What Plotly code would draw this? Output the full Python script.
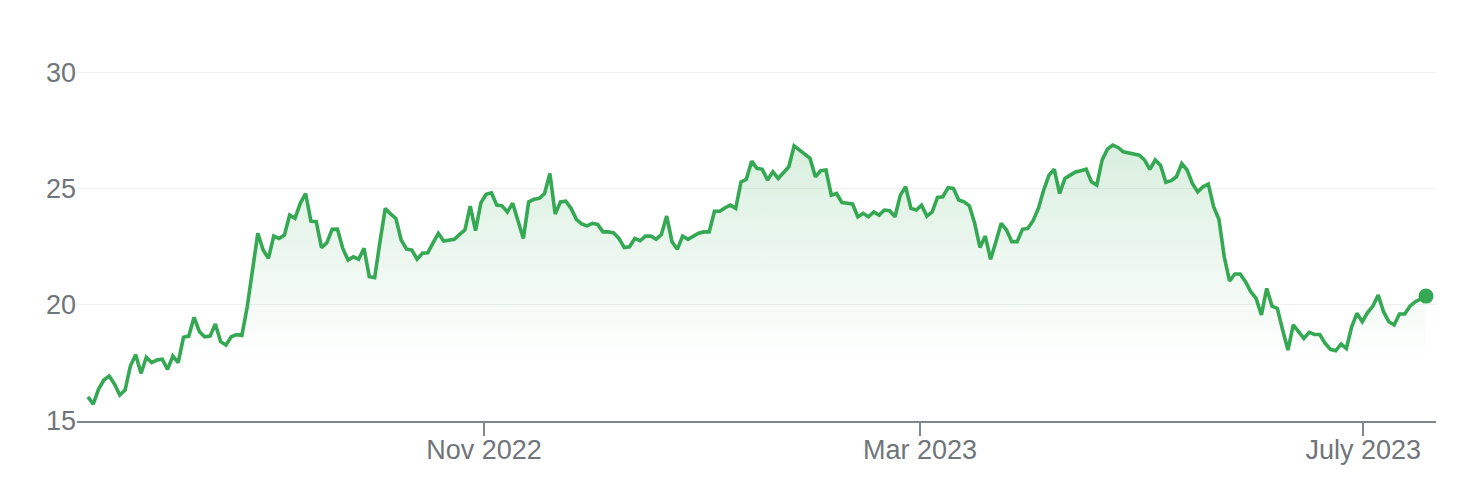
import pandas as pd
import plotly.graph_objects as go

# closing prices, one block per month
jul_2022 = [16.04, 15.73, 16.36, 16.76, 16.93, 16.59, 16.12, 16.33, 17.36]
aug_2022 = [17.85, 17.05, 17.74, 17.51, 17.62, 17.66, 17.22, 17.79, 17.51, 18.60,
            18.65, 19.46, 18.84, 18.62, 18.65, 19.17, 18.41, 18.27, 18.62, 18.71,
            18.68, 19.90, 21.60]
sep_2022 = [23.07, 22.35, 21.99, 22.95, 22.85, 22.99, 23.85, 23.71, 24.36, 24.78,
            23.59, 23.57, 22.45, 22.66, 23.24, 23.25, 22.42, 21.92, 22.06, 21.96,
            22.42]
oct_2022 = [21.20, 21.16, 22.70, 24.14, 23.90, 23.71, 22.78, 22.39, 22.35, 21.96,
            22.21, 22.23, 22.66, 23.07, 22.74, 22.78, 22.81, 23.02, 23.21, 24.24,
            23.18]
nov_2022 = [24.38, 24.75, 24.81, 24.28, 24.25, 23.99, 24.36, 23.57, 22.85, 24.42,
            24.53, 24.57, 24.78, 25.64, 23.90, 24.42, 24.45, 24.14, 23.67, 23.47,
            23.39]
dec_2022 = [23.50, 23.45, 23.13, 23.13, 23.09, 22.85, 22.46, 22.49, 22.85, 22.75,
            22.95, 22.95, 22.81, 23.02, 23.81, 22.71, 22.38, 22.95, 22.81, 22.95,
            23.07]
jan_2023 = [23.13, 23.13, 24.02, 24.02, 24.17, 24.28, 24.14, 25.28, 25.39, 26.17,
            25.86, 25.82, 25.36, 25.71, 25.43, 25.71, 25.93, 26.83, 26.65, 26.47]
feb_2023 = [26.29, 25.50, 25.76, 25.79, 24.71, 24.78, 24.39, 24.36, 24.33, 23.78,
            23.93, 23.78, 23.99, 23.85, 24.07, 24.04, 23.78, 24.71, 25.07]
mar_2023 = [24.14, 24.07, 24.28, 23.81, 23.99, 24.61, 24.64, 25.03, 25.00, 24.50,
            24.42, 24.25, 23.50, 22.46, 22.95, 21.95, 22.71, 23.50, 23.21, 22.71,
            22.71, 23.24, 23.28]
apr_2023 = [23.61, 24.14, 24.93, 25.57, 25.82, 24.78, 25.43, 25.57, 25.71, 25.76,
            25.83, 25.28, 25.14, 26.22, 26.69, 26.86, 26.76, 26.57, 26.53]
may_2023 = [26.47, 26.43, 26.22, 25.82, 26.22, 26.00, 25.26, 25.33, 25.50, 26.07,
            25.79, 25.21, 24.85, 25.07, 25.18, 24.21, 23.67, 22.06, 21.02, 21.32,
            21.32, 20.99]
jun_2023 = [20.56, 20.27, 19.56, 20.70, 19.94, 19.84, 18.91, 18.05, 19.13, 18.84,
            18.55, 18.81, 18.72, 18.72, 18.34, 18.08, 18.02, 18.31, 18.12, 19.05,
            19.63]
jul_2023 = [19.27, 19.66, 19.94, 20.41, 19.70, 19.27, 19.13, 19.60, 19.60, 19.94,
            20.13, 20.27, 20.37]

tick_dates = ["2022-11-01", "2023-03-01", "2023-07-01"]
tick_labels = ["Nov 2022", "Mar 2023", "July 2023"]

prices = (jul_2022 + aug_2022 + sep_2022 + oct_2022 + nov_2022 + dec_2022 + jan_2023
          + feb_2023 + mar_2023 + apr_2023 + may_2023 + jun_2023 + jul_2023)
# points sit evenly spaced in time on the chart
dates = pd.date_range("2022-07-15", "2023-07-18 06:00", periods=len(prices))

GREEN = "#34a853"
GREY = "#70757a"

fig = go.Figure()
fig.add_trace(go.Scatter(
    x=dates, y=prices, mode="lines",
    line=dict(color=GREEN, width=3.6),
    fill="tozeroy",
    fillgradient=dict(type="vertical", start=17.5, stop=27,
                      colorscale=[[0, "rgba(52,168,83,0)"], [1, "rgba(52,168,83,0.19)"]]),
    hoverinfo="skip",
))
fig.add_trace(go.Scatter(
    x=[dates[-1]], y=[prices[-1]], mode="markers",
    marker=dict(color=GREEN, size=15),
    hoverinfo="skip",
))

fig.update_layout(
    width=1474, height=488,
    margin=dict(l=77, r=38, t=60, b=67),
    plot_bgcolor="#FFFFFF", paper_bgcolor="#FFFFFF",
    showlegend=False,
    font=dict(family="Liberation Sans, Arial, sans-serif", size=27, color=GREY),
    xaxis=dict(
        range=["2022-07-12", "2023-07-21"],
        tickvals=tick_dates, ticktext=tick_labels,
        showgrid=False, zeroline=False,
        showline=True, linecolor="#80868b", linewidth=2,
        ticks="outside", ticklen=13, tickwidth=2, tickcolor="#80868b",
        ticklabelstandoff=-9,
    ),
    yaxis=dict(
        range=[15, 30.52], tick0=15, dtick=5,
        showgrid=True, gridcolor="#f0f0f0", gridwidth=1,
        zeroline=False, showline=False, ticks="",
    ),
)

fig.write_html("out.html", config={"displayModeBar": False},
               post_script="document.body.style.margin='0';")
